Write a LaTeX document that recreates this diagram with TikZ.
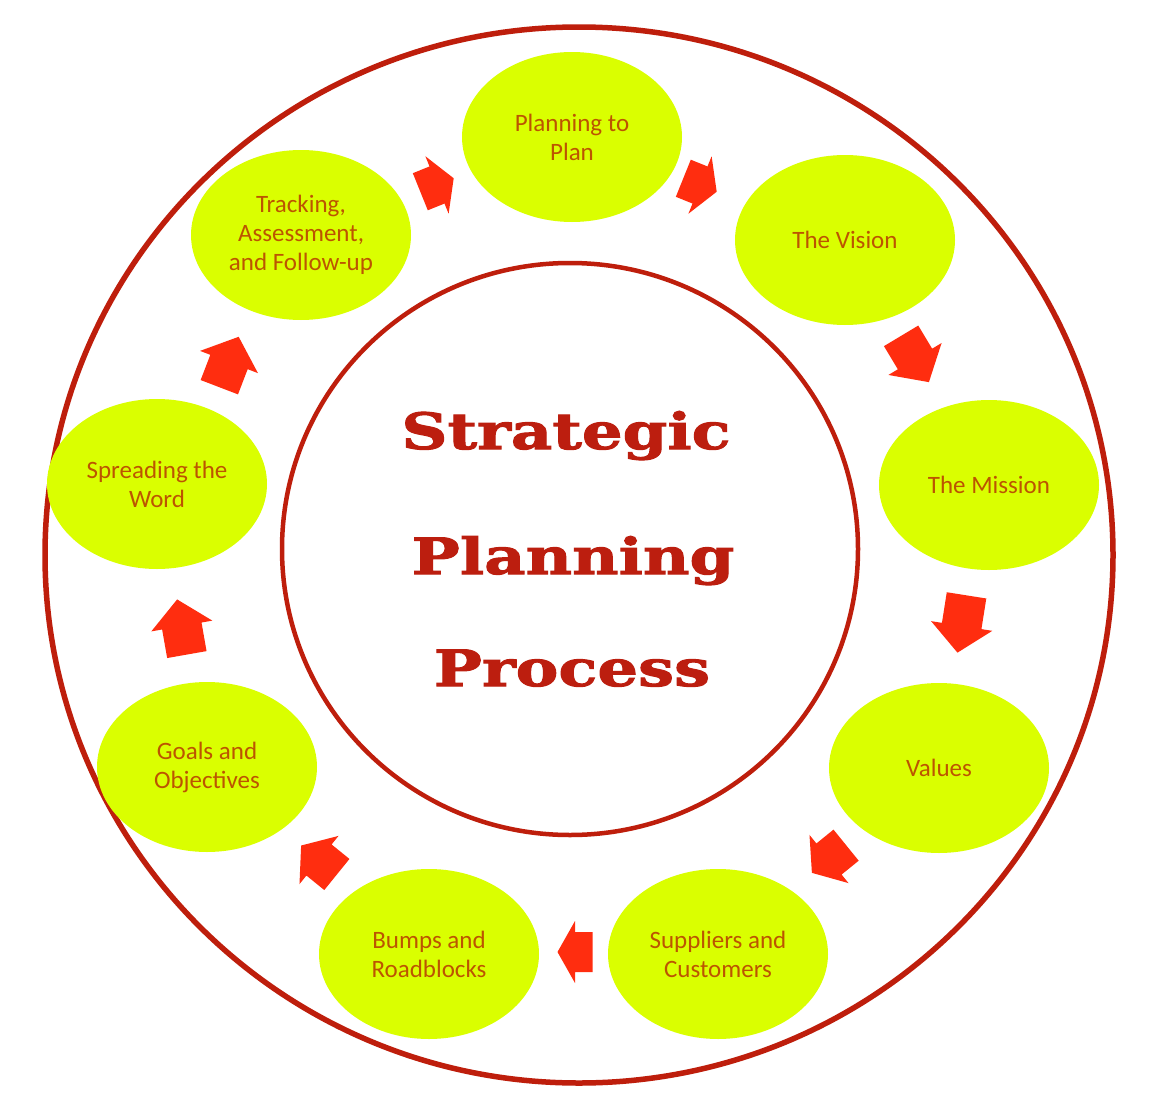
\documentclass[tikz,border=0pt]{standalone}
\usepackage{fontspec}
\setmainfont{Carlito}
\newfontfamily\titlefont[FakeStretch=1.28, FakeBold=2]{DejaVu Serif}
\usetikzlibrary{shapes.geometric}
\definecolor{ringred}{RGB}{190,30,12}
\definecolor{ellfill}{RGB}{218,255,0}
\definecolor{elltext}{RGB}{188,84,0}
\definecolor{arrowred}{RGB}{255,45,15}
\definecolor{titlered}{RGB}{188,30,15}
\begin{document}
\begin{tikzpicture}[x=1pt,y=1pt,
  stage/.style={ellipse, fill=ellfill, minimum width=220pt, minimum height=170pt,
    inner sep=0pt, text=elltext, font=\fontsize{25}{29}\selectfont, align=center},
  ring/.style={ellipse, draw=ringred, line width=5.5pt, inner sep=0pt},
  titletext/.style={anchor=base, text=titlered, font=\titlefont\bfseries\fontsize{50}{56}\selectfont},
  barrow/.style={fill=arrowred}]
\useasboundingbox (0,0) rectangle (1152,-1100);
\fill[white] (0,0) rectangle (1152,-1100);
% rings
\node[ring, minimum width=1068pt, minimum height=1056pt] (outer) at (579,-555) {};
\node[ring, line width=4.5pt, minimum width=576pt, minimum height=572pt] (inner) at (570,-549) {};
% title
\node[titletext] (t1) at (566,-449) {Strategic};
\node[titletext] (t2) at (573,-574) {Planning};
\node[titletext] (t3) at (572,-686) {Process};
% stages
\node[stage] (plan) at (572,-137) {Planning to\\Plan};
\node[stage] (vision) at (845,-240) {The Vision};
\node[stage] (mission) at (989,-485) {The Mission};
\node[stage] (values) at (939,-768) {Values};
\node[stage] (suppliers) at (718,-954) {Suppliers and\\Customers};
\node[stage] (bumps) at (429,-954) {Bumps and\\Roadblocks};
\node[stage] (goals) at (207,-767) {Goals and\\Objectives};
\node[stage] (spreading) at (157,-484) {Spreading the\\Word};
\node[stage] (tracking) at (301,-235) {Tracking,\\Assessment,\\and Follow-up};
% block arrows
\foreach \n/\x/\y/\a/\l in {a1/437/185/22/36, a2/700/185/-22/36, a3/915/359/-59/54,
    a4/962/624/-99/58, a5/829/859/-141/44, a6/575/952/180/35, a7/319/860/141/46,
    a8/182/627/100/56, a9/229/362/69/54}{
  \pgfmathsetmacro\h{min(27,0.5*\l)}
  \coordinate (\n) at (\x,-\y);
  \fill[barrow, shift={(\n)}, rotate=\a]
    ({-\l/2},-20) -- ({\l/2-\h},-20) -- ({\l/2-\h},-31) -- ({\l/2},0)
    -- ({\l/2-\h},31) -- ({\l/2-\h},20) -- ({-\l/2},20) -- cycle;
}
\end{tikzpicture}
\end{document}
